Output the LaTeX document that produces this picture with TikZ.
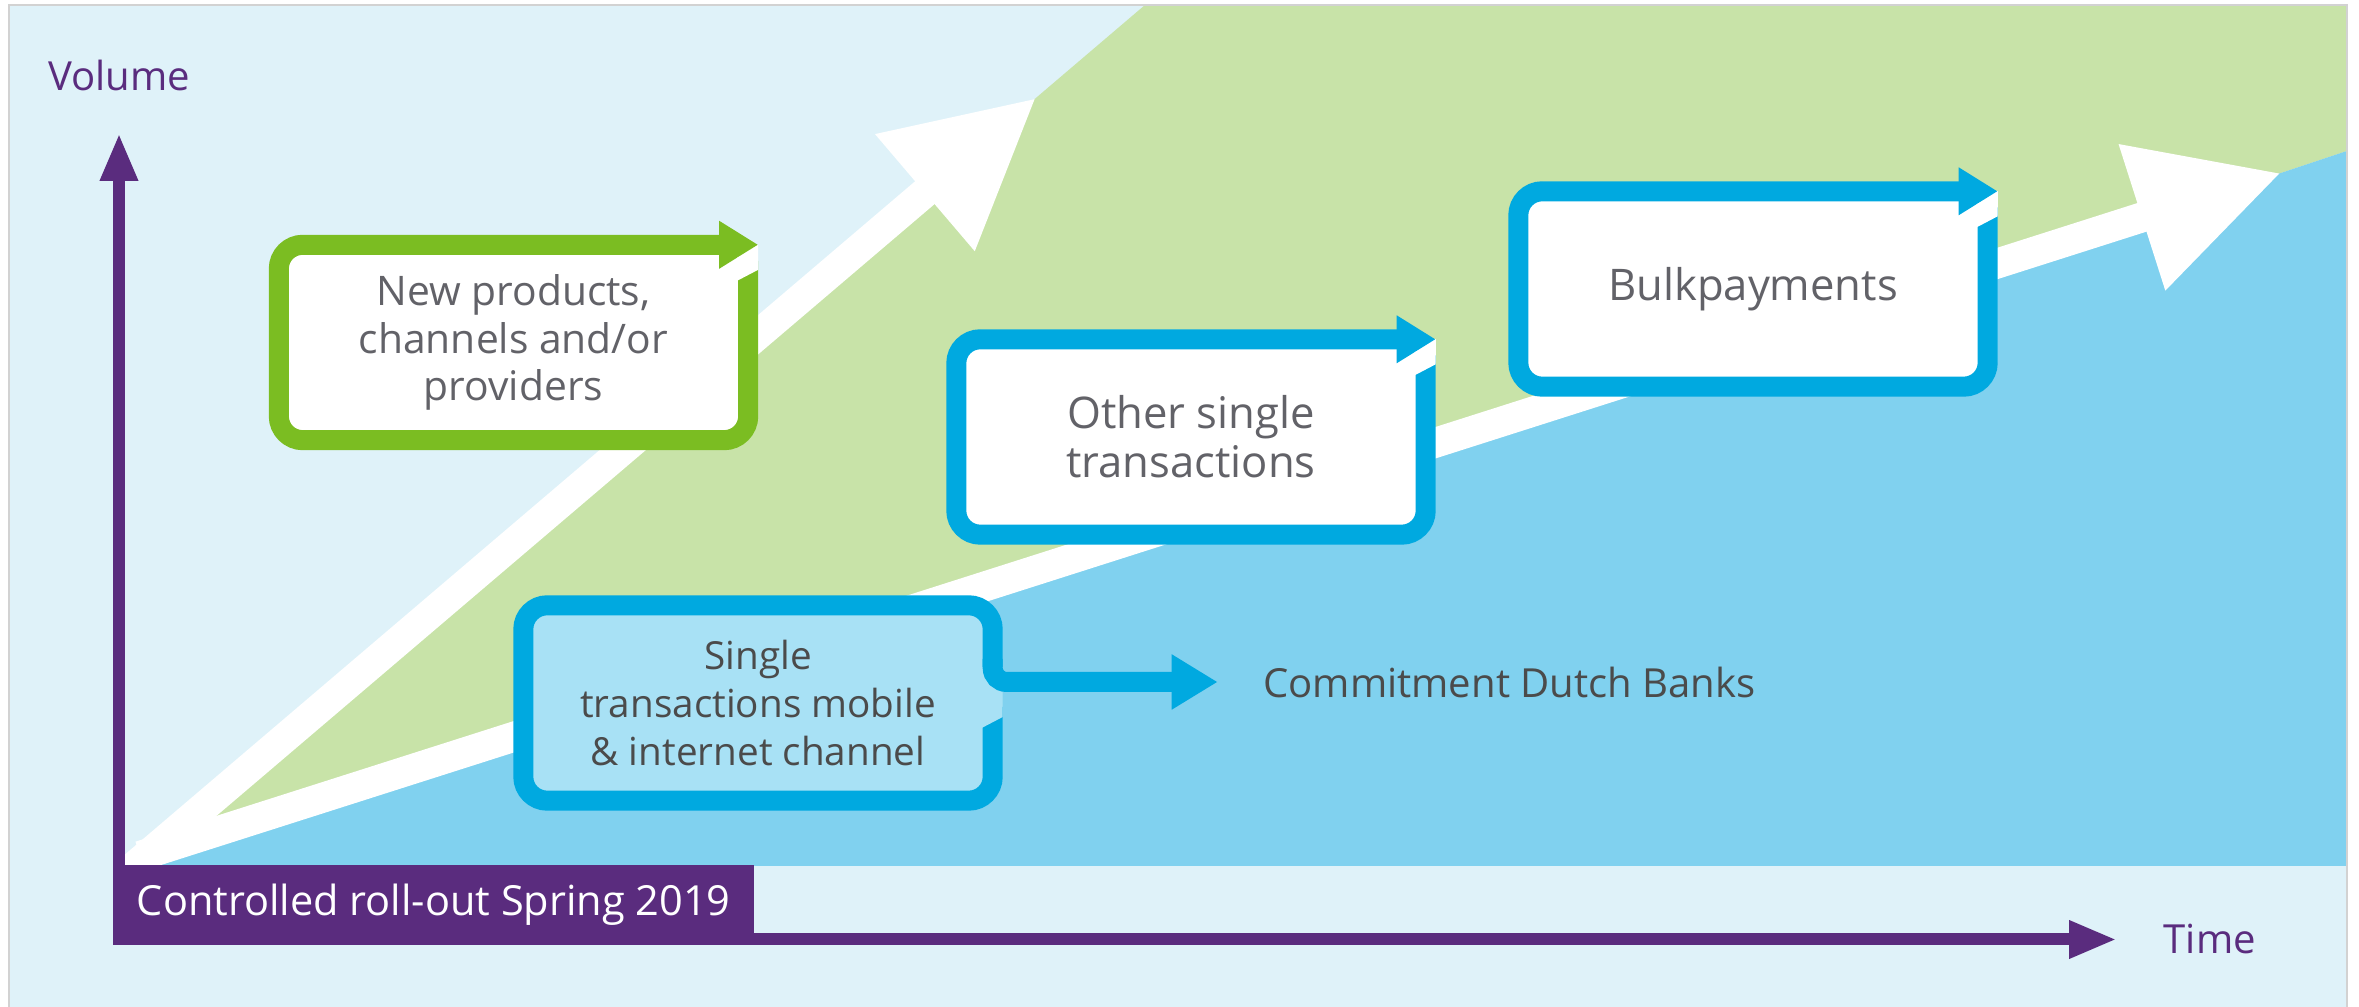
\documentclass[tikz,border=0pt]{standalone}
\usepackage{fontspec}
\setmainfont{Open Sans}
\usetikzlibrary{arrows.meta,positioning}
\definecolor{paper}{HTML}{DFF2F9}
\definecolor{leaf}{HTML}{C8E3A8}
\definecolor{sky}{HTML}{80D1EF}
\definecolor{ingblue}{HTML}{00A9E0}
\definecolor{paleblue}{HTML}{A8E1F5}
\definecolor{lime}{HTML}{7BBD22}
\definecolor{plum}{HTML}{5A2C7E}
\definecolor{ink}{HTML}{626268}
\definecolor{darkink}{HTML}{4B4B4B}

% rim of a box whose top edge runs out into an arrow (#1 node, #2 colour)
\newcommand{\looprim}[2]{%
  \fill[white] ([xshift=-3.4mm,yshift=-3.4mm]#1.north east) rectangle ([yshift=-1mm]#1.north east);
  \draw[#2,rim,-{Triangle[length=3.9mm,width=4.5mm]}]
    ([xshift=-1mm,yshift=-2.6mm]#1.north east) -- ([xshift=-1mm,yshift=1mm]#1.south east)
    -- ([xshift=1mm,yshift=1mm]#1.south west) -- ([xshift=1mm,yshift=-1mm]#1.north west)
    -- ([yshift=-1mm]#1.north east);
  \fill[white] ([xshift=-2.1mm,yshift=-4.6mm]#1.north east) -- ([yshift=-3.5mm]#1.north east)
    -- ([yshift=-1.2mm]#1.north east) -- ([xshift=-2.1mm,yshift=-2.3mm]#1.north east) -- cycle;
}

\begin{document}
\begin{tikzpicture}[x=0.1mm,y=0.1mm,font=\fontsize{11.4}{13.7}\selectfont,
   cyclebox/.style={minimum width=48.8mm,minimum height=21.4mm,rounded corners=3.4mm,
                    fill=white,inner sep=0pt,align=center,text=ink,
                    font=\fontsize{12.4}{14}\selectfont},
   rim/.style={line width=2mm,rounded corners=2.4mm},
   lane/.style={white,line width=3mm,-{Triangle[length=14.6mm,width=14.5mm]}},
   axisline/.style={plum,line width=1.2mm,-{Triangle[length=4.8mm,width=3.5mm]}}]
  \useasboundingbox (0,0) rectangle (2359,1007);
  \fill[paper] (9,-10) rectangle (2347,1002);

  % growth areas and the two white trend arrows
  \fill[leaf] (150,154) -- (1145,1002) -- (2347,1002) -- (2347,856) -- (2281,834) -- cycle;
  \fill[sky] (150,154) -- (2281,834) -- (2347,856) -- (2347,141) -- (125,141) -- cycle;
  \begin{scope}
    \clip (125,141) rectangle (2347,1002);
    \draw[lane] (104,115) -- (1036,909);
    \draw[lane] (140,151) -- (2281,834);
  \end{scope}

  % boxes with a looping rim
  \node[cyclebox,font=\fontsize{11.6}{13.6}\selectfont] (newprod) at (513.5,664.5)
    {New products,\\channels and/or\\providers};
  \looprim{newprod}{lime}
  \node[cyclebox] (othersingle) at (1191,570) {Other single\\transactions};
  \looprim{othersingle}{ingblue}
  \node[cyclebox] (bulk) at (1753,718) {Bulkpayments};
  \looprim{bulk}{ingblue}

  % first step: rim opens to the right
  \node[cyclebox,fill=paleblue,text=darkink,font=\fontsize{11}{13.6}\selectfont] (singlemob)
    at (758,304) {Single\\transactions mobile\\\& internet channel};
  \node[right=26mm of singlemob,yshift=2.1mm,inner sep=0pt,text=darkink] (commit)
    {Commitment Dutch Banks};
  \draw[ingblue,rim] ([xshift=-1mm,yshift=-0.4mm]singlemob.east)
    -- ([xshift=-1mm,yshift=1mm]singlemob.south east) -- ([xshift=1mm,yshift=1mm]singlemob.south west)
    -- ([xshift=1mm,yshift=-1mm]singlemob.north west) -- ([xshift=-1mm,yshift=-1mm]singlemob.north east)
    -- ([xshift=-1mm,yshift=3.6mm]singlemob.east);
  \fill[paleblue] ([xshift=-2.1mm,yshift=-2.5mm]singlemob.east) -- ([yshift=-1.4mm]singlemob.east)
    -- ([yshift=1.3mm]singlemob.east) -- ([xshift=-2.1mm,yshift=1.3mm]singlemob.east) -- cycle;
  \draw[ingblue,line width=2mm,rounded corners=1.4mm,-{Triangle[length=4.6mm,width=5.2mm]}]
    ([xshift=-1mm,yshift=4.4mm]singlemob.east) |- ([xshift=-4.5mm]commit.west);

  % axes
  \coordinate (ytip) at (119,874);
  \coordinate (xtip) at (2117,67.5);
  \draw[axisline] (119,62) -- (ytip);
  \draw[axisline] (113,67.5) -- (xtip);
  \node[above=4.1mm of ytip,inner sep=0pt,text=plum] (volume) {Volume};
  \node[right=4.6mm of xtip,inner sep=0pt,text=plum] (time) {Time};
  \node[fill=plum,text=white,minimum width=64mm,minimum height=7.9mm,inner sep=0pt,
        anchor=south west,font=\fontsize{11.8}{14}\selectfont] (rollout) at (113,62)
    {Controlled roll-out Spring 2019};

  \draw[gray!35,line width=0.2mm] (9,-10) rectangle (2347,1002);
\end{tikzpicture}
\end{document}
